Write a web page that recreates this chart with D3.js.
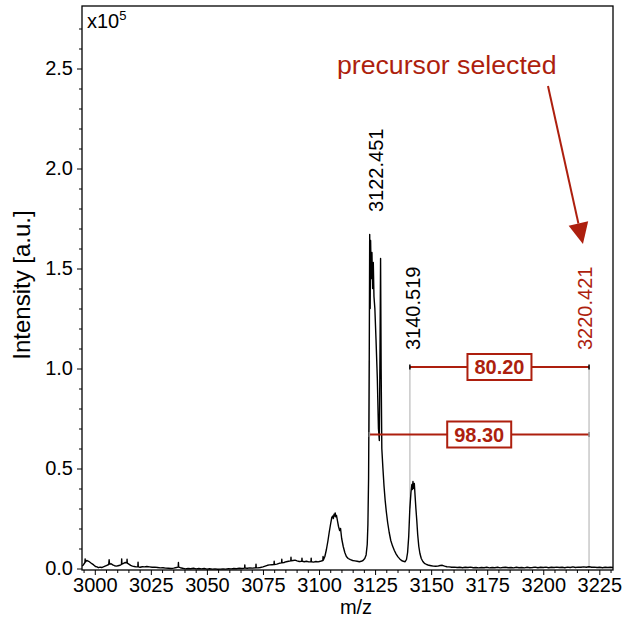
<!DOCTYPE html>
<html>
<head>
<meta charset="utf-8">
<script src="https://cdn.jsdelivr.net/npm/d3@7"></script>
<style>
  html, body { margin: 0; padding: 0; background: #fff; }
  svg { display: block; font-family: "Liberation Sans", Arial, sans-serif; }
</style>
</head>
<body>
<svg id="chart" width="625" height="627"></svg>
<script>
// ---------------- data (intensity in units of 1e5) ----------------
const xTickValues = [3000, 3025, 3050, 3075, 3100, 3125, 3150, 3175, 3200, 3225];
const yTickValues = [0.0, 0.5, 1.0, 1.5, 2.0, 2.5];
const yTickLabels = ["0.0", "0.5", "1.0", "1.5", "2.0", "2.5"];

const spectrumPoints = [
  [2994.3, 0.012], [2994.9, 0.018], [2995.6, 0.030], [2995.7, 0.048], [2995.8, 0.032],
  [2996.4, 0.040], [2997.3, 0.036], [2998.0, 0.030], [2998.7, 0.024], [2999.5, 0.018],
  [3000.3, 0.010], [3001.0, 0.008], [3001.6, 0.004], [3002.4, 0.007], [3003.1, 0.005],
  [3003.8, 0.008], [3004.6, 0.012], [3005.4, 0.016], [3006.2, 0.020], [3006.4, 0.044],
  [3006.6, 0.022], [3007.3, 0.024], [3008.0, 0.018], [3008.8, 0.014], [3009.6, 0.012],
  [3010.4, 0.014], [3011.2, 0.016], [3011.9, 0.020], [3012.0, 0.048], [3012.1, 0.022],
  [3012.8, 0.026], [3013.6, 0.030], [3014.3, 0.028], [3014.4, 0.046], [3014.5, 0.027],
  [3015.2, 0.022], [3016.0, 0.016], [3016.8, 0.012], [3017.6, 0.010], [3018.4, 0.008],
  [3019.2, 0.008], [3019.3, 0.032], [3019.4, 0.008], [3020.2, 0.006], [3021.2, 0.009],
  [3022.2, 0.008], [3023.2, 0.010], [3024.4, 0.008], [3025.6, 0.006], [3026.8, 0.007],
  [3028.0, 0.005], [3029.2, 0.003], [3030.4, 0.004], [3031.6, 0.002], [3032.8, 0.001],
  [3034.0, 0.000], [3035.2, 0.002], [3036.4, 0.005], [3037.2, 0.007], [3037.3, 0.030],
  [3037.4, 0.007], [3038.2, 0.004], [3039.2, 0.001], [3040.4, -0.002], [3041.6, 0.000],
  [3042.8, -0.001], [3044.0, 0.001], [3045.2, -0.002], [3046.4, 0.000], [3047.6, -0.002],
  [3048.8, 0.000], [3050.0, -0.003], [3051.2, -0.001], [3052.4, -0.003], [3053.6, -0.002],
  [3054.8, -0.004], [3056.0, -0.003], [3057.2, -0.002], [3058.4, -0.003], [3059.6, -0.001],
  [3060.8, -0.002], [3062.0, 0.000], [3063.2, -0.001], [3064.4, 0.001], [3065.6, 0.000],
  [3066.8, 0.002], [3066.9, 0.018], [3067.0, 0.002], [3068.0, 0.001], [3069.2, 0.003],
  [3070.4, 0.002], [3071.8, 0.004], [3071.9, 0.022], [3072.0, 0.004], [3072.8, 0.003],
  [3073.8, 0.005], [3075.0, 0.008], [3076.0, 0.012], [3077.0, 0.016], [3078.0, 0.018],
  [3079.0, 0.019], [3079.9, 0.020], [3080.0, 0.036], [3080.1, 0.020], [3081.2, 0.022],
  [3082.2, 0.026], [3083.3, 0.028], [3083.4, 0.046], [3083.5, 0.029], [3084.4, 0.030],
  [3085.4, 0.034], [3086.4, 0.036], [3087.4, 0.038], [3087.5, 0.056], [3087.6, 0.038],
  [3088.4, 0.040], [3089.3, 0.042], [3090.2, 0.038], [3091.2, 0.035], [3092.3, 0.036],
  [3092.4, 0.052], [3092.5, 0.036], [3093.4, 0.034], [3094.4, 0.036], [3095.4, 0.033],
  [3096.4, 0.034], [3096.5, 0.052], [3096.6, 0.034], [3097.6, 0.032], [3098.6, 0.035],
  [3099.6, 0.033], [3100.6, 0.036], [3101.7, 0.040], [3101.8, 0.060], [3101.9, 0.042],
  [3102.6, 0.060], [3103.3, 0.095], [3104.0, 0.140], [3104.6, 0.185], [3105.2, 0.225],
  [3105.7, 0.255], [3106.1, 0.262], [3106.4, 0.250], [3106.7, 0.272], [3107.0, 0.262],
  [3107.2, 0.278], [3107.5, 0.258], [3107.8, 0.265], [3108.2, 0.240], [3108.7, 0.210],
  [3109.2, 0.190], [3109.6, 0.200], [3110.1, 0.150], [3110.8, 0.110], [3111.5, 0.080],
  [3112.2, 0.060], [3113.0, 0.050], [3114.0, 0.044], [3115.0, 0.040], [3116.0, 0.038],
  [3117.0, 0.036], [3118.0, 0.034], [3118.8, 0.036], [3119.6, 0.040], [3120.4, 0.050],
  [3121.0, 0.068], [3121.5, 0.120], [3121.8, 0.220], [3122.1, 0.450], [3122.4, 1.040],
  [3122.6, 1.670], [3122.8, 1.300], [3123.0, 1.640], [3123.3, 1.450], [3123.6, 1.580],
  [3123.9, 1.400], [3124.2, 1.530], [3124.5, 1.360], [3124.9, 1.300], [3125.4, 1.150],
  [3126.0, 0.950], [3126.5, 0.700], [3126.9, 0.640], [3127.2, 1.100], [3127.45, 1.550],
  [3127.7, 1.000], [3128.0, 0.600], [3128.5, 0.500], [3129.0, 0.410], [3129.5, 0.340],
  [3130.0, 0.285], [3130.6, 0.230], [3131.3, 0.180], [3132.0, 0.140], [3132.8, 0.112],
  [3133.6, 0.090], [3134.4, 0.072], [3135.2, 0.058], [3136.0, 0.048], [3136.8, 0.040],
  [3137.6, 0.036], [3138.4, 0.034], [3139.0, 0.045], [3139.5, 0.080], [3140.0, 0.160],
  [3140.5, 0.300], [3141.0, 0.380], [3141.4, 0.420], [3141.6, 0.395], [3141.9, 0.435],
  [3142.2, 0.400], [3142.5, 0.425], [3142.8, 0.370], [3143.2, 0.300], [3143.6, 0.240],
  [3144.0, 0.170], [3144.5, 0.110], [3145.0, 0.075], [3145.6, 0.050], [3146.3, 0.035],
  [3147.0, 0.026], [3148.0, 0.020], [3149.0, 0.016], [3150.0, 0.014], [3151.0, 0.012],
  [3152.0, 0.011], [3153.0, 0.012], [3154.0, 0.015], [3155.0, 0.016], [3156.0, 0.012],
  [3157.0, 0.009], [3158.0, 0.008], [3159.2, 0.006], [3160.4, 0.007], [3161.6, 0.005],
  [3162.8, 0.006], [3164.0, 0.004], [3165.2, 0.006], [3166.4, 0.005], [3167.6, 0.007],
  [3168.8, 0.004], [3170.0, 0.005], [3171.2, 0.003], [3172.4, 0.005], [3173.6, 0.004],
  [3174.8, 0.006], [3176.0, 0.003], [3177.2, 0.005], [3178.4, 0.004], [3179.6, 0.006],
  [3180.8, 0.003], [3182.0, 0.005], [3183.2, 0.006], [3184.4, 0.004], [3185.6, 0.005],
  [3186.8, 0.003], [3188.0, 0.006], [3189.2, 0.004], [3190.4, 0.005], [3191.6, 0.003],
  [3192.8, 0.006], [3194.0, 0.004], [3195.2, 0.005], [3196.4, 0.007], [3197.6, 0.004],
  [3198.8, 0.006], [3200.0, 0.005], [3201.2, 0.007], [3202.4, 0.004], [3203.6, 0.006],
  [3204.8, 0.005], [3206.0, 0.007], [3207.2, 0.005], [3208.4, 0.006], [3209.6, 0.004],
  [3210.8, 0.007], [3212.0, 0.005], [3213.2, 0.008], [3214.4, 0.005], [3215.6, 0.007],
  [3216.8, 0.006], [3218.0, 0.008], [3219.2, 0.006], [3220.4, 0.009], [3221.6, 0.006],
  [3222.8, 0.007], [3224.0, 0.005], [3225.2, 0.006], [3226.4, 0.004], [3227.6, 0.006],
  [3228.8, 0.005], [3230.0, 0.006], [3231.1, 0.005]
];

// peak annotations
const peakLabels = ["3122.451", "3140.519", "3220.421"];
const peakMz = [3122.451, 3140.519, 3220.421];
const peakLabelStart = [1.7825, 1.0925, 1.0925];   // intensity where rotated label begins
const peakLineTop = [0.67, 1.0075, 1.0075];         // gray guide: from bracket level...
const peakLineBottom = [1.04, 0.30, 0.009];          // ...to the spectrum
// mass-difference brackets
const bracketLabels = ["80.20", "98.30"];
const bracketFrom = [3140.519, 3122.451];
const bracketTo = [3220.421, 3220.421];
const bracketLevel = [1.0075, 0.67];
// arrow annotation
const arrowText = "precursor selected";
const arrowFrom = [3202.1, 2.4125];
const arrowTo = [3217.7, 1.6225];
const arrowTextAnchor = [3108.0, 2.4725];

// ---------------- layout ----------------
const RED = "#ad1f0e";
const frame = { left: 82, right: 613, top: 6, bottom: 570 };
const peakLabelDx = [13.5, 10, 3];
const peakLabelColor = ["#000", "#000", RED];

const svg = d3.select("#chart");
const x = d3.scaleLinear().domain([2994.3, 3231.1]).range([frame.left, frame.right]);
const y = d3.scaleLinear().domain([-0.0075, 2.8125]).range([frame.bottom, frame.top]);

svg.append("defs").append("clipPath").attr("id", "clip")
  .append("rect").attr("x", frame.left).attr("y", frame.top)
  .attr("width", frame.right - frame.left).attr("height", frame.bottom - frame.top);

// axes
const yMinor = d3.range(0, 28).map(i => i / 10).filter(v => Math.round(v * 10) % 5 !== 0);
const xMinor = d3.range(2995, 3231, 5).filter(v => v % 25 !== 0);

const yAxis = svg.append("g").attr("transform", `translate(${frame.left},0)`)
  .call(d3.axisLeft(y).tickValues(yTickValues).tickFormat((d, i) => yTickLabels[i]).tickSize(5).tickPadding(4));
const yAxisMinor = svg.append("g").attr("transform", `translate(${frame.left},0)`)
  .call(d3.axisLeft(y).tickValues(yMinor).tickFormat("").tickSize(3));
const xAxis = svg.append("g").attr("transform", `translate(0,${frame.bottom})`)
  .call(d3.axisBottom(x).tickValues(xTickValues).tickFormat(d3.format("d")).tickSize(5).tickPadding(3));
const xAxisMinor = svg.append("g").attr("transform", `translate(0,${frame.bottom})`)
  .call(d3.axisBottom(x).tickValues(xMinor).tickFormat("").tickSize(3));
[yAxis, yAxisMinor, xAxis, xAxisMinor].forEach(g => {
  g.select(".domain").remove();
  g.selectAll("line").attr("stroke", "#000").attr("stroke-width", 1);
  g.selectAll("text").attr("font-size", 20).attr("fill", "#000")
    .attr("font-family", "'Liberation Sans', Arial, sans-serif");
});

// gray guide lines
svg.append("g").selectAll("line").data(peakMz).join("line")
  .attr("x1", d => x(d)).attr("x2", d => x(d))
  .attr("y1", (d, i) => y(peakLineTop[i])).attr("y2", (d, i) => y(peakLineBottom[i]))
  .attr("stroke", "#c8c8c8").attr("stroke-width", 1.5);

// spectrum
const line = d3.line().x(d => x(d[0])).y(d => y(d[1]));
svg.append("path").datum(spectrumPoints)
  .attr("clip-path", "url(#clip)")
  .attr("d", line).attr("fill", "none").attr("stroke", "#000")
  .attr("stroke-width", 1.4).attr("stroke-linejoin", "round");

// frame
svg.append("rect").attr("x", frame.left).attr("y", frame.top)
  .attr("width", frame.right - frame.left).attr("height", frame.bottom - frame.top)
  .attr("fill", "none").attr("stroke", "#000").attr("stroke-width", 1.3);

// brackets
const br = svg.append("g");
bracketLabels.forEach((lab, i) => {
  const x1 = x(bracketFrom[i]), x2 = x(bracketTo[i]), yy = y(bracketLevel[i]);
  br.append("line").attr("x1", x1).attr("x2", x2).attr("y1", yy).attr("y2", yy)
    .attr("stroke", RED).attr("stroke-width", 2);
  [x1, x2].forEach(xx => {
    br.append("line").attr("x1", xx).attr("x2", xx).attr("y1", yy - 2.5).attr("y2", yy + 2.5)
      .attr("stroke", i === 0 ? "#000" : "#888").attr("stroke-width", 1.5);
  });
  const cx = (x1 + x2) / 2;
  br.append("rect")
    .attr("x", cx - 32).attr("y", yy - 13).attr("width", 64).attr("height", 26)
    .attr("fill", "#fff").attr("stroke", RED).attr("stroke-width", 2);
  br.append("text").attr("x", cx).attr("y", yy).attr("dy", "0.36em")
    .attr("text-anchor", "middle").attr("font-size", 20).attr("font-weight", "bold")
    .attr("fill", RED).text(lab);
});

// peak labels
svg.append("g").selectAll("text").data(peakLabels).join("text")
  .attr("transform", (d, i) => `translate(${x(peakMz[i]) + peakLabelDx[i]},${y(peakLabelStart[i])}) rotate(-90)`)
  .attr("font-size", 20).attr("fill", (d, i) => peakLabelColor[i]).text(d => d);

// arrow
const ax1 = x(arrowFrom[0]), ay1 = y(arrowFrom[1]), ax2 = x(arrowTo[0]), ay2 = y(arrowTo[1]);
const ang = Math.atan2(ay2 - ay1, ax2 - ax1);
const headLen = 21, headHalf = 10;
const bx = ax2 - headLen * Math.cos(ang), by = ay2 - headLen * Math.sin(ang);
svg.append("line").attr("x1", ax1).attr("y1", ay1).attr("x2", bx).attr("y2", by)
  .attr("stroke", RED).attr("stroke-width", 2);
svg.append("path")
  .attr("d", `M${ax2},${ay2} L${bx - headHalf * Math.sin(ang)},${by + headHalf * Math.cos(ang)} L${bx + headHalf * Math.sin(ang)},${by - headHalf * Math.cos(ang)} Z`)
  .attr("fill", RED);
svg.append("text").attr("x", x(arrowTextAnchor[0])).attr("y", y(arrowTextAnchor[1]))
  .attr("font-size", 26.7).attr("fill", RED).text(arrowText);

// axis titles
svg.append("text").attr("x", 356).attr("y", 614).attr("text-anchor", "middle")
  .attr("font-size", 20).text("m/z");
svg.append("text").attr("transform", "translate(30,285) rotate(-90)").attr("text-anchor", "middle")
  .attr("font-size", 24).text("Intensity [a.u.]");

// exponent
const ex = svg.append("text").attr("x", 87).attr("y", 28).attr("font-size", 20);
ex.append("tspan").text("x10");
ex.append("tspan").attr("font-size", 13).attr("dy", -8).text("5");
</script>
</body>
</html>
